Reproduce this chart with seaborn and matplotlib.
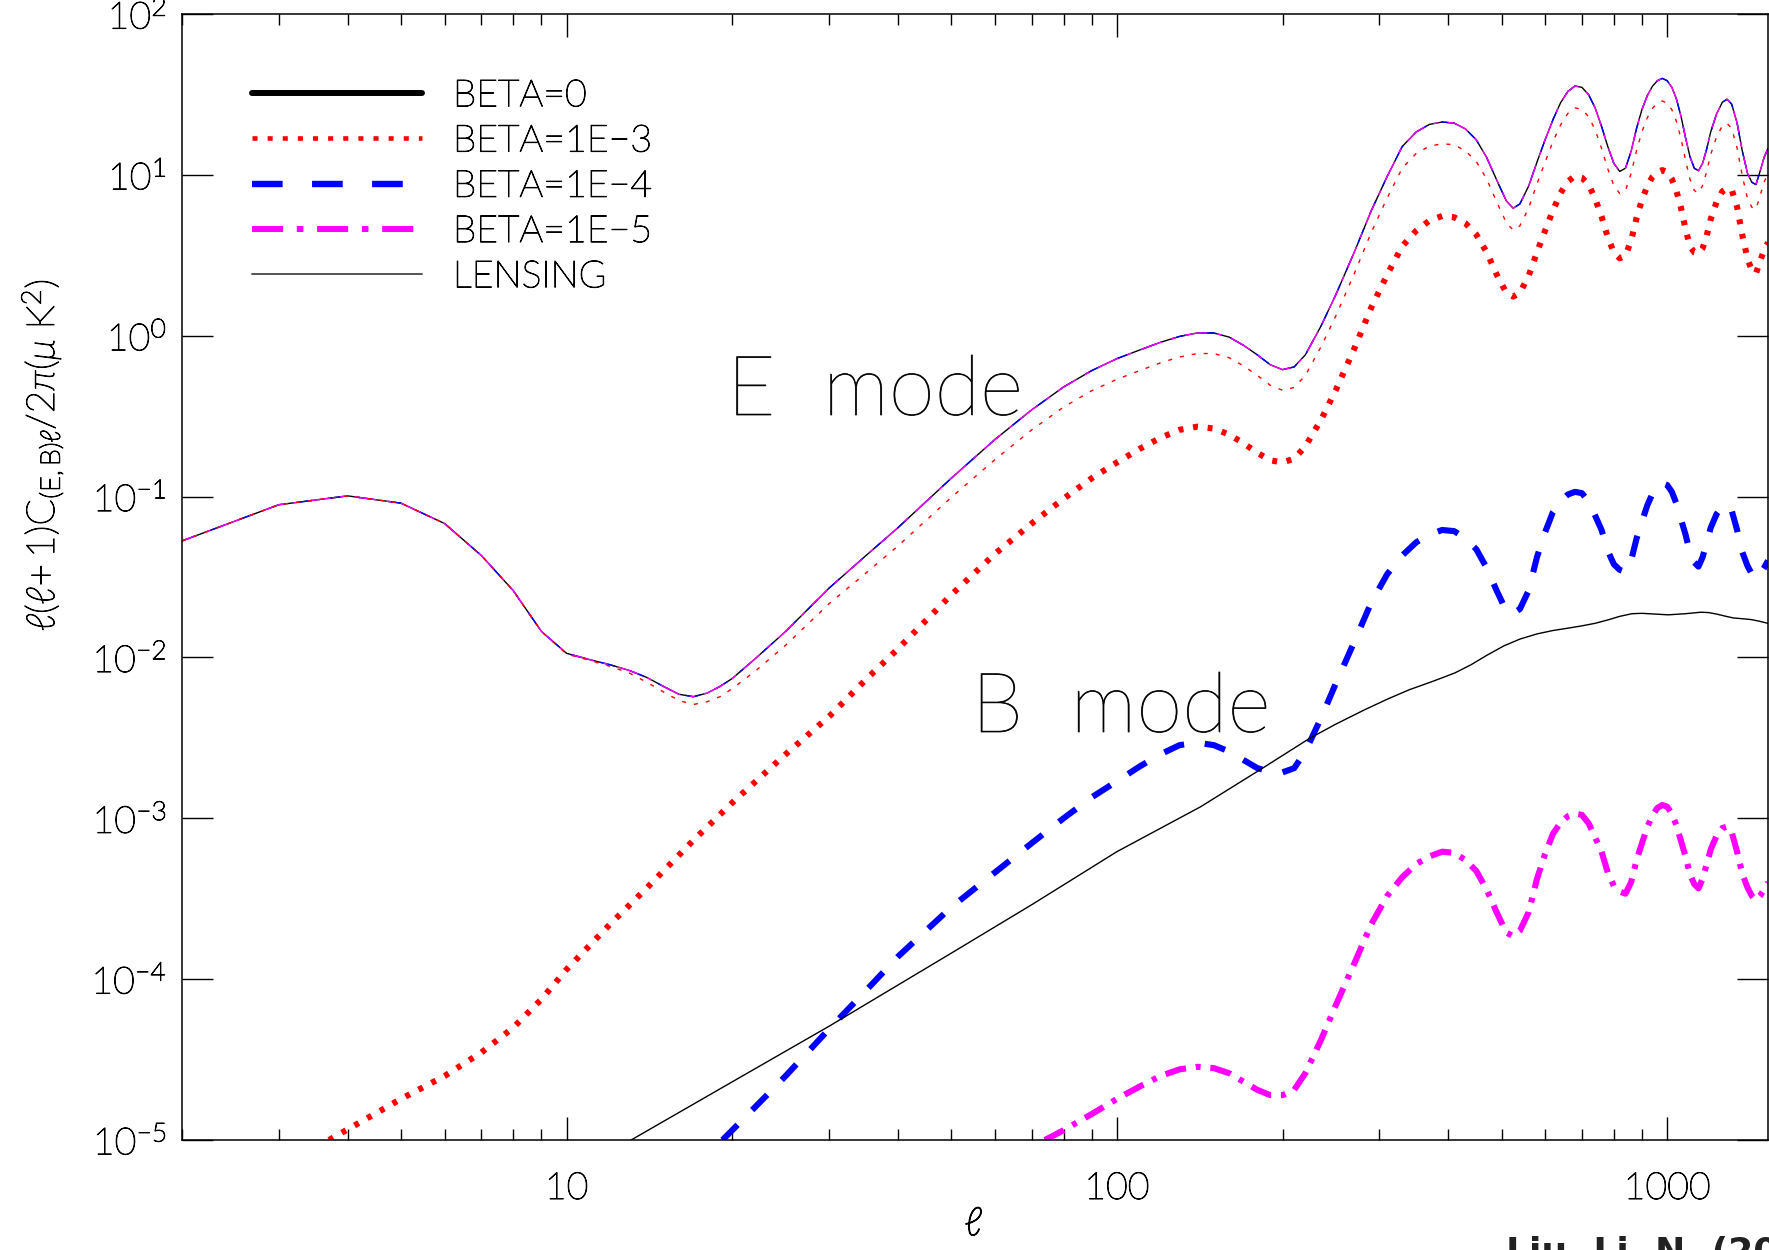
import numpy as np
import pandas as pd
import seaborn as sns
import matplotlib
matplotlib.use("Agg")
import matplotlib.pyplot as plt
import matplotlib.patheffects as pe
from matplotlib.lines import Line2D
from matplotlib.ticker import LogLocator, NullLocator, FixedLocator, FixedFormatter

# ---------------- data ----------------
ell_E = [2, 3, 4, 5, 6, 7, 8, 9, 10, 11, 12, 13, 14, 15, 16, 17, 18, 19, 20, 22, 25, 30, 35, 40,
         50, 60, 70, 80, 90, 100, 110, 120, 130, 140, 150, 160, 170, 180, 190, 200, 210, 220,
         235, 250, 270, 290, 310, 330, 350, 370, 390, 410, 430, 450, 470, 490, 510, 525, 540,
         560, 580, 600, 620, 640, 660, 680, 700, 720, 740, 760, 780, 800, 820, 840, 860, 880,
         900, 920, 940, 960, 980, 1000, 1020, 1040, 1060, 1080, 1100, 1120, 1140, 1160, 1180,
         1200, 1230, 1260, 1285, 1310, 1340, 1370, 1400, 1425, 1450, 1475, 1500, 1525]

E_beta0 = [0.053, 0.089, 0.101, 0.091, 0.068, 0.043, 0.026, 0.0145, 0.0106, 0.0097, 0.0090,
           0.0083, 0.0075, 0.0066, 0.0059, 0.0057, 0.0060, 0.0066, 0.0074, 0.0098, 0.0145,
           0.027, 0.043, 0.064, 0.130, 0.226, 0.346, 0.48, 0.607, 0.72, 0.815, 0.91, 0.99,
           1.04, 1.04, 0.98, 0.87, 0.76, 0.66, 0.615, 0.64, 0.76, 1.15, 1.8, 3.3, 6.0, 9.8,
           15.0, 18.5, 20.6, 21.3, 21.0, 19.3, 16.5, 12.8, 9.3, 6.9, 6.2, 6.6, 8.5, 12.0, 16.5,
           22.0, 28.0, 33.0, 35.7, 35.0, 31.5, 26.0, 20.0, 15.0, 11.8, 10.5, 11.0, 14.0, 19.5,
           25.5, 31.0, 35.5, 38.5, 39.8, 38.5, 35.0, 29.5, 23.0, 17.0, 13.0, 11.0, 10.6, 11.8,
           14.5, 18.5, 24.0, 28.3, 29.5, 27.5, 21.0, 14.0, 10.2, 9.0, 8.7, 10.5, 12.8, 14.6]
E_beta1e4 = E_beta0          # indistinguishable from BETA=0 in the figure
E_beta1e5 = E_beta0

E_beta1e3 = [0.053, 0.089, 0.101, 0.091, 0.068, 0.043, 0.026, 0.0145, 0.0105, 0.0096, 0.0088,
             0.0080, 0.0070, 0.0061, 0.0054, 0.0051, 0.0053, 0.0057, 0.0064, 0.0082, 0.0119,
             0.0216, 0.0335, 0.0493, 0.0988, 0.1695, 0.2595, 0.36, 0.455, 0.536, 0.607, 0.678,
             0.738, 0.775, 0.775, 0.730, 0.648, 0.566, 0.492, 0.458, 0.477, 0.566, 0.855, 1.33,
             2.43, 4.4, 7.2, 11.0, 13.6, 15.1, 15.6, 15.4, 14.1, 12.1, 9.4, 6.8, 5.05, 4.53,
             4.82, 6.2, 8.8, 12.0, 16.1, 20.4, 24.1, 26.1, 25.5, 23.0, 19.0, 14.6, 10.9, 8.6,
             7.65, 8.0, 10.2, 14.2, 18.6, 22.6, 25.9, 28.0, 28.8, 27.9, 25.4, 21.4, 16.7, 12.3,
             9.4, 8.0, 7.7, 8.6, 10.5, 13.4, 17.3, 20.2, 20.9, 19.4, 14.7, 9.8, 7.1, 6.3, 6.1,
             7.4, 9.0, 10.2]

ell_B3 = [3.7, 5, 6, 7, 8, 9, 10, 12, 14, 17, 20, 25, 30, 35, 40, 50, 60, 70, 80, 90, 100, 110,
          120, 130, 140, 150, 160, 170, 180, 190, 200, 210, 220, 235, 250, 270, 290, 310, 330,
          350, 370, 390, 410, 430, 450, 470, 490, 510, 525, 540, 560, 580, 600, 620, 640, 660,
          680, 700, 720, 740, 760, 780, 800, 820, 840, 860, 880, 900, 920, 940, 960, 980, 1000,
          1020, 1040, 1060, 1080, 1100, 1120, 1140, 1160, 1180, 1200, 1230, 1260, 1285, 1310,
          1340, 1370, 1400, 1425, 1450, 1475, 1500, 1525]
B_beta1e3 = [1.0e-5, 1.8e-5, 2.5e-5, 3.5e-5, 5.0e-5, 7.5e-5, 1.15e-4, 2.2e-4, 3.7e-4, 7.3e-4,
             1.25e-3, 2.5e-3, 4.3e-3, 7.3e-3, 0.0113, 0.0245, 0.044, 0.068, 0.097, 0.13, 0.163,
             0.198, 0.232, 0.26, 0.272, 0.265, 0.243, 0.214, 0.187, 0.168, 0.163, 0.172, 0.205,
             0.30, 0.46, 0.83, 1.5, 2.4, 3.6, 4.5, 5.2, 5.55, 5.45, 5.0, 4.25, 3.3, 2.4, 1.85,
             1.75, 1.85, 2.35, 3.3, 4.5, 6.0, 7.7, 9.1, 9.84, 9.6, 8.7, 7.1, 5.5, 4.1, 3.3, 3.03,
             3.15, 3.9, 5.4, 7.0, 8.5, 9.7, 10.4, 10.7, 10.4, 9.4, 7.9, 6.2, 4.6, 3.6, 3.3, 3.25,
             3.5, 4.2, 5.3, 6.8, 7.9, 8.25, 8.1, 6.3, 4.2, 3.0, 2.55, 2.44, 2.9, 3.4, 3.8]

ell_B4 = [19.2, 22, 25, 30, 35, 40, 50, 60, 70, 80, 90, 100, 110, 120, 130, 140, 150, 160, 170,
          180, 190, 200, 210, 220, 235, 250, 270, 290, 310, 330, 350, 370, 390, 410, 430, 450,
          470, 490, 510, 525, 540, 560, 580, 600, 620, 640, 660, 680, 700, 720, 740, 760, 780,
          800, 820, 840, 860, 880, 900, 920, 940, 960, 980, 1000, 1020, 1040, 1060, 1080, 1100,
          1120, 1140, 1160, 1180, 1200, 1230, 1260, 1285, 1310, 1340, 1370, 1400, 1425, 1450,
          1475, 1500, 1525]
B_beta1e4 = [1.0e-5, 1.6e-5, 2.5e-5, 4.9e-5, 8.5e-5, 1.38e-4, 2.8e-4, 4.6e-4, 7.0e-4, 1.0e-3,
             1.35e-3, 1.7e-3, 2.1e-3, 2.5e-3, 2.85e-3, 2.95e-3, 2.85e-3, 2.6e-3, 2.3e-3, 2.05e-3,
             1.95e-3, 1.93e-3, 2.05e-3, 2.6e-3, 4.2e-3, 6.9e-3, 0.0125, 0.022, 0.033, 0.043,
             0.052, 0.058, 0.062, 0.061, 0.055, 0.047, 0.036, 0.026, 0.0195, 0.0188, 0.020,
             0.026, 0.042, 0.060, 0.080, 0.094, 0.103, 0.107, 0.105, 0.093, 0.076, 0.062, 0.046,
             0.038, 0.035, 0.034, 0.040, 0.055, 0.070, 0.088, 0.104, 0.116, 0.121, 0.118, 0.107,
             0.090, 0.072, 0.058, 0.045, 0.039, 0.0367, 0.042, 0.052, 0.064, 0.078, 0.087,
             0.0887, 0.082, 0.062, 0.045, 0.037, 0.033, 0.031, 0.033, 0.036, 0.040]

ell_B5 = [74, 80, 90, 100, 110, 120, 130, 140, 150, 160, 170, 180, 190, 200, 210, 220, 235, 250,
          270, 290, 310, 330, 350, 370, 390, 410, 430, 450, 470, 490, 510, 525, 540, 560, 580,
          600, 620, 640, 660, 680, 700, 720, 740, 760, 780, 800, 820, 840, 860, 880, 900, 920,
          940, 960, 980, 1000, 1020, 1040, 1060, 1080, 1100, 1120, 1140, 1160, 1180, 1200, 1230,
          1260, 1285, 1310, 1340, 1370, 1400, 1425, 1450, 1475, 1500, 1525]
B_beta1e5 = [1.0e-5, 1.15e-5, 1.45e-5, 1.8e-5, 2.15e-5, 2.5e-5, 2.75e-5, 2.85e-5, 2.8e-5, 2.6e-5,
             2.3e-5, 2.05e-5, 1.9e-5, 1.9e-5, 2.05e-5, 2.6e-5, 4.2e-5, 6.9e-5, 1.25e-4, 2.2e-4,
             3.3e-4, 4.3e-4, 5.2e-4, 5.8e-4, 6.2e-4, 6.1e-4, 5.5e-4, 4.7e-4, 3.6e-4, 2.6e-4,
             1.95e-4, 1.85e-4, 2.0e-4, 2.6e-4, 4.2e-4, 6.0e-4, 8.0e-4, 9.4e-4, 1.03e-3, 1.07e-3,
             1.05e-3, 9.3e-4, 7.6e-4, 6.2e-4, 4.6e-4, 3.8e-4, 3.5e-4, 3.4e-4, 4.0e-4, 5.5e-4,
             7.0e-4, 8.8e-4, 1.04e-3, 1.16e-3, 1.21e-3, 1.18e-3, 1.07e-3, 9.0e-4, 7.2e-4, 5.8e-4,
             4.5e-4, 3.9e-4, 3.67e-4, 4.2e-4, 5.2e-4, 6.4e-4, 7.8e-4, 8.7e-4, 8.87e-4, 8.2e-4,
             6.2e-4, 4.5e-4, 3.7e-4, 3.3e-4, 3.1e-4, 3.3e-4, 3.6e-4, 4.0e-4]

ell_lens = [13.1, 20, 30, 50, 70, 100, 142, 184, 224, 250, 281, 310, 340, 375, 411, 440, 470,
            505, 540, 580, 620, 660, 699, 740, 780, 820, 863, 900, 950, 1005, 1080, 1151, 1190,
            1230, 1280, 1319, 1370, 1420, 1470, 1524]
B_lens = [1.0e-5, 2.3e-5, 5.1e-5, 1.45e-4, 2.9e-4, 6.2e-4, 1.18e-3, 2.05e-3, 3.14e-3, 3.85e-3,
          4.7e-3, 5.5e-3, 6.3e-3, 7.1e-3, 8.0e-3, 9.0e-3, 1.03e-2, 1.18e-2, 1.30e-2, 1.40e-2,
          1.47e-2, 1.52e-2, 1.57e-2, 1.63e-2, 1.71e-2, 1.80e-2, 1.87e-2, 1.88e-2, 1.86e-2,
          1.84e-2, 1.87e-2, 1.91e-2, 1.90e-2, 1.86e-2, 1.80e-2, 1.76e-2, 1.74e-2, 1.72e-2,
          1.68e-2, 1.63e-2]

legend_labels = ["BETA=0", "BETA=1E\u22123", "BETA=1E\u22124", "BETA=1E\u22125", "LENSING"]
xtick_vals = [10, 100, 1000]
xtick_labels = ["10", "100", "1000"]

# ---------------- style ----------------
sns.set_style("white")
plt.rcParams["font.family"] = ["Lato", "DejaVu Sans"]
plt.rcParams["font.weight"] = "light"
plt.rcParams["text.color"] = "black"
plt.rcParams["axes.labelcolor"] = "black"
plt.rcParams["xtick.color"] = "black"
plt.rcParams["ytick.color"] = "black"
plt.rcParams["mathtext.fontset"] = "custom"
plt.rcParams["mathtext.rm"] = "Lato:light"
plt.rcParams["mathtext.it"] = "Lato:italic:light"
plt.rcParams["mathtext.bf"] = "Lato:bold"
plt.rcParams["mathtext.fallback"] = "cm"

# thin strokes slightly darkened, like the plotter font of the original
ink = [pe.withStroke(linewidth=0.75, foreground="black")]
ink_big = [pe.withStroke(linewidth=0.6, foreground="#222222")]

fig = plt.figure(figsize=(17.69, 12.5), dpi=100)
ax = fig.add_axes([182 / 1769, 110 / 1250, 1586 / 1769, 1126 / 1250])

RED, BLUE, MAG = "#ff0000", "#0000ff", "#ff00ff"
thick = 4.4
thin = 1.0
dot_thick = (0, (0.8, 1.6))
dash_thick = (0, (3.5, 3.4))
dd_thick = (0, (3.5, 1.6, 0.8, 1.6))


def draw(x, y, **kw):
    df = pd.DataFrame({"ell": x, "cl": y})
    sns.lineplot(data=df, x="ell", y="cl", ax=ax, estimator=None, errorbar=None,
                 sort=False, legend=False, **kw)


# E-mode curves (thin)
draw(ell_E, E_beta0, color="black", linewidth=thin)
draw(ell_E, E_beta1e4, color=BLUE, linewidth=thin, linestyle=(0, (11, 11)))
draw(ell_E, E_beta1e5, color=MAG, linewidth=thin, linestyle=(5, (16, 7, 3.6, 7)))
draw(ell_E, E_beta1e3, color=RED, linewidth=thin, linestyle=(0, (2.9, 5.8)))
# B-mode curves (thick)
draw(ell_B3, B_beta1e3, color=RED, linewidth=thick, linestyle=dot_thick)
draw(ell_B4, B_beta1e4, color=BLUE, linewidth=thick, linestyle=dash_thick)
draw(ell_B5, B_beta1e5, color=MAG, linewidth=thick, linestyle=dd_thick)
draw(ell_lens, B_lens, color="black", linewidth=thin)

ax.set_xscale("log")
ax.set_yscale("log")
ax.set_xlim(2, 1525)
ax.set_ylim(1e-5, 1e2)

# ticks
ax.xaxis.set_major_locator(FixedLocator(xtick_vals))
ax.xaxis.set_major_formatter(FixedFormatter(xtick_labels))
ax.xaxis.set_minor_locator(LogLocator(base=10, subs=np.arange(2, 10), numticks=20))
ax.yaxis.set_major_locator(LogLocator(base=10, numticks=10))
ax.yaxis.set_minor_locator(NullLocator())
ax.tick_params(axis="x", which="major", direction="in", length=16.5, width=1.0,
               top=True, bottom=True, labelsize=27, pad=23, color="black", labelcolor="black")
ax.tick_params(axis="x", which="minor", direction="in", length=8, width=1.0,
               top=True, bottom=True, color="black", labelbottom=False)
ax.tick_params(axis="y", which="major", direction="in", length=22, width=1.0,
               left=True, right=True, labelsize=27, pad=11, color="black", labelcolor="black")
for s in ax.spines.values():
    s.set_color("black")
    s.set_linewidth(1.1)
ax.set_xlabel("")
ax.set_ylabel("")
fig.canvas.draw()
for lab in ax.get_xticklabels() + ax.get_yticklabels():
    lab.set_path_effects(ink)

# axis titles
fig.text(974 / 1769, 1 - 1206 / 1250, r"$\ell$", fontsize=28, ha="center", va="top",
         color="black", path_effects=[pe.withStroke(linewidth=1.0, foreground="black")])
fig.text(42 / 1769, 1 - 455 / 1250,
         r"$\ell(\ell\!+1)\mathrm{C}_{(\mathrm{E,B})\ell}/2\pi(\mu\ \mathrm{K}^{2})$",
         fontsize=28, rotation=90, ha="center", va="center", color="black",
         path_effects=ink)

# annotations
ax.text((875 - 182) / 1586, (1140 - 415) / 1126, "E  mode", transform=ax.transAxes,
        fontsize=60, ha="center", va="baseline", color="black", path_effects=ink_big)
ax.text((1121 - 182) / 1586, (1140 - 732) / 1126, "B  mode", transform=ax.transAxes,
        fontsize=60, ha="center", va="baseline", color="black", path_effects=ink_big)

# legend
handles = [
    Line2D([], [], color="black", lw=4.3),
    Line2D([], [], color=RED, lw=3.3, linestyle=(0, (1.1, 2.2))),
    Line2D([], [], color=BLUE, lw=4.6, linestyle=(0, (4.8, 4.6))),
    Line2D([], [], color=MAG, lw=4.3, linestyle=(0, (5.2, 2.3, 1.1, 2.3))),
    Line2D([], [], color="#555555", lw=1.4),
]
leg = ax.legend(handles, legend_labels, loc="upper left", bbox_to_anchor=(0.0441, 0.942),
                frameon=False, fontsize=27, handlelength=4.53, handletextpad=0.83,
                labelspacing=0.3, borderpad=0, borderaxespad=0)
for t in leg.get_texts():
    t.set_color("black")
    t.set_path_effects(ink)

# credit line (cut by the bottom edge, as in the reference)
fig.text(1506 / 1769, 1 - 1263 / 1250, "Liu, Li, N. (2006)", fontsize=26,
         fontweight="bold", family="DejaVu Sans", color="#222222", ha="left", va="baseline")

fig.savefig("out.png", dpi=100)
